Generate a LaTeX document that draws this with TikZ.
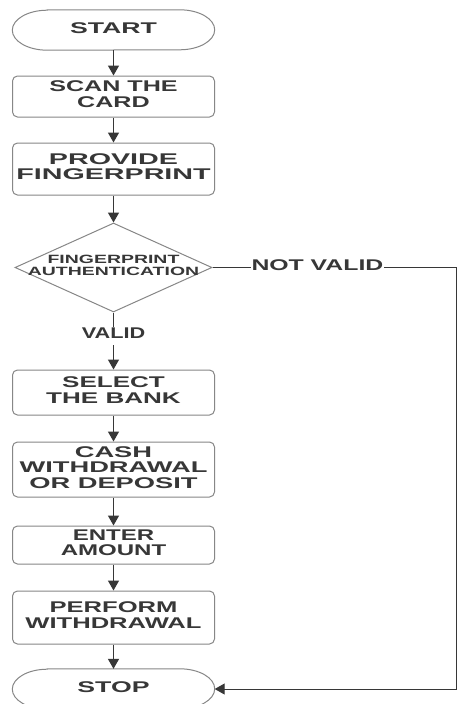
\documentclass[tikz,border=0pt]{standalone}
\usepackage{fontspec}
\setmainfont{Liberation Sans}
\usepackage{graphicx}
\usetikzlibrary{arrows.meta,shapes.geometric}
\definecolor{Ink}{RGB}{55,55,55}
\definecolor{Frame}{RGB}{135,135,135}
\newcommand{\flowfont}{\fontsize{15.5}{15.5}\selectfont\bfseries}
\newcommand{\authfont}{\fontsize{12}{12}\selectfont\bfseries}
\newcommand{\Wide}[2][1.65]{\scalebox{#1}[1]{\begin{tabular}{@{}c@{}}#2\end{tabular}}}
\newcommand{\Terminal}[3]{% name y text
\node[minimum width=202pt,minimum height=40pt,inner sep=0pt,text=Ink,font=\flowfont] (#1) at (113.5,#2) {\Wide[1.72]{#3}};
\draw[line width=1pt,Frame] ([xshift=35pt]#1.north west) -- ([xshift=-35pt]#1.north east)
  arc[start angle=90,end angle=-90,x radius=35pt,y radius=20pt]
  -- ([xshift=35pt]#1.south west)
  arc[start angle=270,end angle=90,x radius=35pt,y radius=20pt] -- cycle;
}
\tikzset{
  process/.style={draw=Frame,line width=1pt,rounded corners=5pt,minimum width=202pt,inner sep=0pt,text=Ink,font=\flowfont},
  decision/.style={diamond,draw=Frame,line width=1pt,minimum width=197pt,minimum height=89pt,inner sep=0pt},
  flow/.style={-{Triangle[length=10pt,width=11pt]},line width=1.5pt,Ink},
  tag/.style={fill=white,inner sep=1pt,text=Ink,font=\flowfont}
}

\begin{document}
\begin{tikzpicture}[x=1pt,y=1pt]
\useasboundingbox[fill=white] (0,0) rectangle (458,-704);
\Terminal{start}{-30}{START}
\node[process,minimum height=41pt] (scan) at (113.5,-96.5) {\Wide[1.62]{SCAN THE\\CARD}};
\node[process,minimum height=52pt] (provide) at (113.5,-169) {\Wide[1.85]{PROVIDE\\FINGERPRINT}};
\node[decision,label={[text=Ink,font=\authfont]center:\Wide[1.62]{FINGERPRINT\\AUTHENTICATION}}] (auth) at (113.5,-267.5) {};
\node[process,minimum height=45pt] (select) at (113.5,-392.5) {\Wide[1.68]{SELECT\\THE BANK}};
\node[process,minimum height=55pt] (cash) at (113.5,-469.5) {\Wide[1.76]{CASH\\WITHDRAWAL\\OR DEPOSIT}};
\node[process,minimum height=38pt] (enter) at (113.5,-545) {\Wide[1.55]{ENTER\\AMOUNT}};
\node[process,minimum height=53pt] (perform) at (113.5,-617.5) {\Wide[1.65]{PERFORM\\WITHDRAWAL}};
\Terminal{stop}{-689}{STOP}
% main chain
\foreach \a/\b in {start/scan,scan/provide,provide/auth,select/cash,cash/enter,enter/perform,perform/stop}
  \draw[flow] (\a) -- (\b);
\draw[flow] (auth.south) -- node[tag,pos=0.41] (valid) {\Wide[1.4]{VALID}} (select.north);
% rejected fingerprint goes straight to stop
\coordinate (nvtop) at (456.5,-267.5);
\coordinate (nvbot) at (456.5,-689);
\draw[flow,line width=1pt] (auth.east) -- node[tag,pos=0.43] (notvalid) {\Wide[1.6]{NOT VALID}} (nvtop) -- (nvbot) -- (stop.east);
\end{tikzpicture}
\end{document}
